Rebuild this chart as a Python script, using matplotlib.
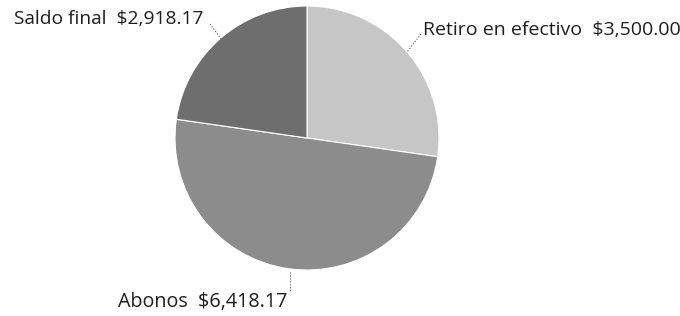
import matplotlib.pyplot as plt

# Pie data
labels = ['Retiro en efectivo', 'Abonos', 'Saldo final']
values = [3500.00, 6418.17, 2918.17]
colors = ['#c6c6c6', '#8c8c8c', '#6e6e6e']

plt.rcParams['font.family'] = ['Open Sans', 'DejaVu Sans']

fig = plt.figure(figsize=(6.8, 3.16), dpi=100)
ax = fig.add_axes([0, 0, 1, 1])

# center at pixel (307, 138), radius 132 px
R = 132.0
cx, cy = 307.0, 138.0

ax.pie(values, colors=colors, startangle=90, counterclock=False, radius=1.0,
       wedgeprops=dict(edgecolor='white', linewidth=0.8), frame=True)
ax.set_xlim(-cx / R, (680 - cx) / R)
ax.set_ylim(-(316 - cy) / R, cy / R)
ax.set_aspect('equal')
ax.axis('off')


def px(x, y):
    return ((x - cx) / R, (cy - y) / R)


def money(v):
    return f"${v:,.2f}"


tc = '#1e1e1e'
# Saldo final
ax.text(*px(203, 19), f"{labels[2]}  {money(values[2])}", ha='right', va='center', fontsize=13.8, color=tc)
ax.plot(*zip(px(210, 24), px(222, 40)), ls=':', lw=0.8, color='#555555')
# Retiro
ax.text(*px(423, 30), f"{labels[0]}  {money(values[0])}", ha='left', va='center', fontsize=14, color=tc)
ax.plot(*zip(px(421, 34), px(407, 52)), ls=':', lw=0.8, color='#555555')
# Abonos
ax.text(*px(118, 302), f"{labels[1]}  {money(values[1])}", ha='left', va='center', fontsize=14.2, color=tc)
ax.plot(*zip(px(290, 272), px(290, 292)), ls=':', lw=0.8, color='#555555')

fig.savefig('out.png', dpi=100)
